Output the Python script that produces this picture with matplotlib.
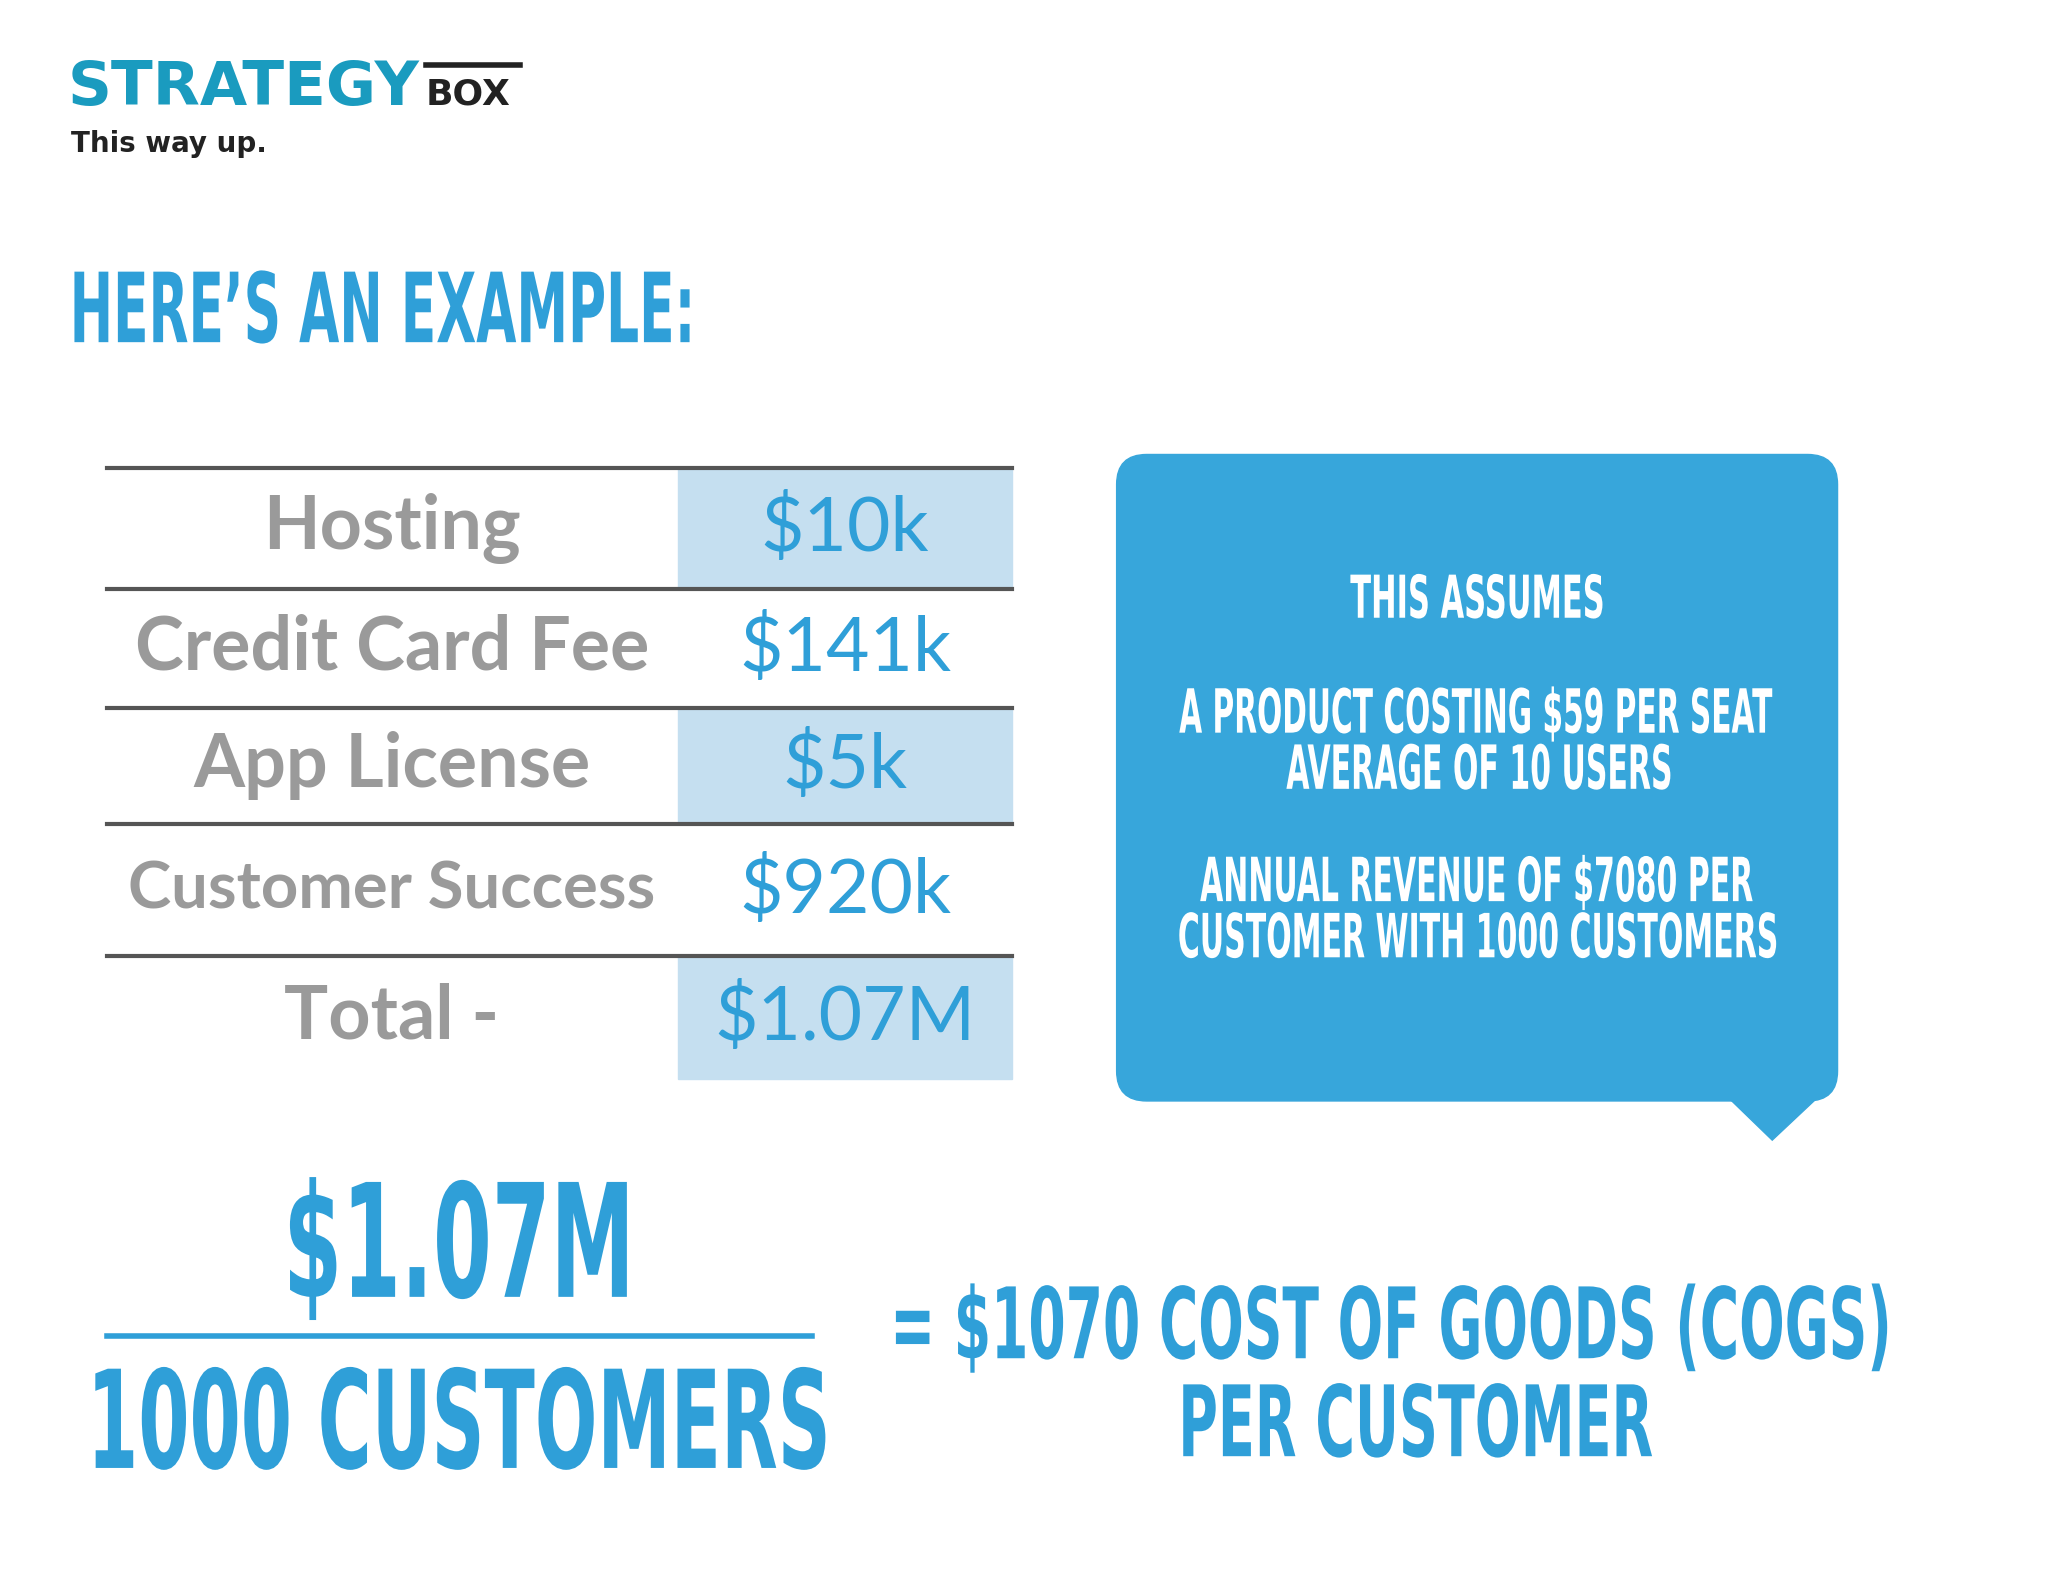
import matplotlib
matplotlib.use("Agg")
import matplotlib.pyplot as plt
from matplotlib.patches import FancyBboxPatch, Rectangle, Polygon, PathPatch
from matplotlib.textpath import TextPath
from matplotlib.font_manager import FontProperties
from matplotlib.transforms import Affine2D

items = ["Hosting", "Credit Card Fee", "App License", "Customer Success", "Total -"]
values = ["$10k", "$141k", "$5k", "$920k", "$1.07M"]
shaded = [True, False, True, False, True]
label_sizes = [53, 53, 53, 47, 53]
assume_lines = ["THIS ASSUMES", "A PRODUCT COSTING $59 PER SEAT", "AVERAGE OF 10 USERS",
                "ANNUAL REVENUE OF $7080 PER", "CUSTOMER WITH 1000 CUSTOMERS"]

S = 1.306
BLUE = "#2f9fd8"
BOXC = "#37a6db"
TEAL = "#1a9bbf"
GREY = "#9a9a9a"

fig = plt.figure(figsize=(20.48, 15.82), dpi=100)
ax = fig.add_axes([0, 0, 1, 1])
ax.set_xlim(0, 2048); ax.set_ylim(1582, 0); ax.axis("off")

FP = FontProperties(family="DejaVu Sans", weight="bold")
HH = TextPath((0, 0), "H", size=100, prop=FP).get_extents().height

def ctext(s, x0, x1, ytop, ybot, color):
    """Condensed text fitted so its width spans x0..x1 and cap height ytop..ybot (display coords)."""
    p = TextPath((0, 0), s, size=100, prop=FP)
    e = p.get_extents()
    sx = (x1 - x0) * S / e.width
    sy = (ybot - ytop) * S / HH
    tr = Affine2D().translate(-e.x0, 0).scale(sx, -sy).translate(x0 * S, ybot * S)
    ax.add_patch(PathPatch(tr.transform_path(p), color=color, lw=0))

# logo
ax.text(52*S, 68*S, "STRATEGY", color=TEAL, fontsize=44, fontweight="heavy", va="center", ha="left")
ax.text(326*S, 72*S, "BOX", color="#222", fontsize=26, fontweight="bold", va="center", ha="left")
ax.plot([326*S, 398*S], [50*S, 50*S], color="#222", lw=4)
ax.text(54*S, 110*S, "This way up.", color="#222", fontsize=20, fontweight="bold", va="center", ha="left")

# title
ctext("HERE\u2019S AN EXAMPLE:", 57, 528, 208, 262, BLUE)

# table
lines = [358, 451, 542, 631, 732, 826]
for i in range(len(items)):
    y0, y1 = lines[i]*S, lines[i+1]*S
    if shaded[i]:
        ax.add_patch(Rectangle((519*S, y0), (775-519)*S, y1-y0, color="#c5dff0", zorder=1))
    yc = (y0 + y1)/2
    ax.text(300*S, yc, items[i], color=GREY, fontsize=label_sizes[i], fontweight="bold",
            ha="center", va="center", family="Lato", zorder=3)
    ax.text(647*S, yc, values[i], color=BLUE, fontsize=54, ha="center", va="center", family="Lato", zorder=3)
for y in lines[:-1]:
    ax.plot([82*S, 775*S], [y*S, y*S], color="#555", lw=3, zorder=2)

# callout
ax.add_patch(FancyBboxPatch((855*S, 348*S), (1407-855)*S, (843-348)*S,
                            boxstyle="round,pad=0,rounding_size=30", color=BOXC, zorder=1))
ax.add_patch(Polygon([(1325*S, 842*S), (1390*S, 842*S), (1357*S, 873*S)], color=BOXC, zorder=1))
boxes = [(1034, 1227, 440, 473), (903, 1357, 527, 561), (985, 1279, 570, 604),
         (919, 1342, 656, 690), (903, 1360, 699, 733)]
for t, b in zip(assume_lines, boxes):
    ctext(t, b[0], b[1], b[2], b[3], "white")

# bottom equation
ctext("$1.07M", 222, 480, 905, 993, BLUE)
ax.plot([82*S, 622*S], [1023*S, 1023*S], color=BLUE, lw=4)
ctext("1000 CUSTOMERS", 73, 632, 1048, 1124, BLUE)
ctext("= $1070 COST OF GOODS (COGS)", 686, 1445, 985, 1040, BLUE)
ctext("PER CUSTOMER", 906, 1265, 1060, 1115, BLUE)

fig.savefig("out.png", dpi=100, facecolor="white")
